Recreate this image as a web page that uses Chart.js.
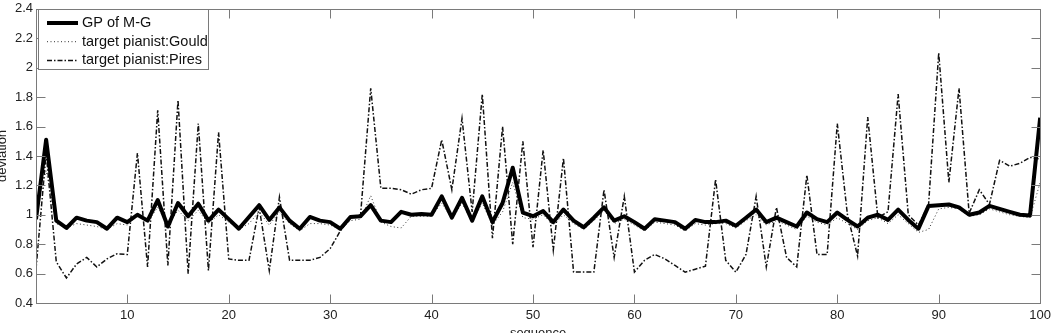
<!DOCTYPE html>
<html>
<head>
<meta charset="utf-8">
<script src="https://cdn.jsdelivr.net/npm/chart.js@4.4.1/dist/chart.umd.min.js"></script>
<style>
  html, body { margin: 0; padding: 0; background: #fff; overflow: hidden; width: 1056px; height: 333px; }
  #wrap { position: absolute; left: -6px; top: 0; width: 1062px; height: 345px; }
</style>
</head>
<body>
<div id="wrap"><canvas id="chart"></canvas></div>
<script>
// sequence index 1..100
const sequence = Array.from({ length: 100 }, (_, i) => i + 1);
const xTicks = [10, 20, 30, 40, 50, 60, 70, 80, 90, 100];
const yTicks = [0.4, 0.6, 0.8, 1.0, 1.2, 1.4, 1.6, 1.8, 2.0, 2.2, 2.4];

const gpMG = [
  0.97, 1.51, 0.96, 0.91, 0.98, 0.96, 0.95, 0.905, 0.98, 0.95,
  1.0, 0.96, 1.10, 0.92, 1.08, 0.99, 1.075, 0.96, 1.035, 0.97,
  0.905, 0.985, 1.065, 0.965, 1.05, 0.96, 0.905, 0.985, 0.96, 0.95,
  0.905, 0.985, 0.99, 1.065, 0.96, 0.95, 1.02, 1.0, 1.005, 1.0,
  1.125, 0.98, 1.115, 0.96, 1.125, 0.95, 1.08, 1.32, 1.015, 0.99,
  1.025, 0.95, 1.035, 0.96, 0.915, 0.98, 1.05, 0.96, 0.99, 0.95,
  0.905, 0.97, 0.96, 0.95, 0.905, 0.965, 0.95, 0.95, 0.96, 0.925,
  0.98, 1.035, 0.95, 0.98, 0.95, 0.92, 1.015, 0.97, 0.95, 1.015,
  0.965, 0.92, 0.98, 1.0, 0.965, 1.035, 0.965, 0.905, 1.06, 1.065,
  1.07, 1.05, 1.0, 1.015, 1.06, 1.04, 1.02, 1.0, 0.995, 1.66
];

const gould = [
  1.04, 1.30, 0.94, 0.91, 0.94, 0.93, 0.92, 0.90, 0.94, 0.93,
  1.0, 0.95, 1.05, 0.93, 1.03, 0.96, 1.03, 0.94, 1.0, 0.95,
  0.90, 0.94, 1.02, 0.93, 1.02, 0.94, 0.89, 0.94, 0.94, 0.93,
  0.90, 0.96, 0.97, 1.13, 0.95, 0.92, 0.91, 0.99, 0.99, 0.99,
  1.08, 0.97, 1.08, 0.95, 1.08, 0.93, 1.02, 1.22, 0.98, 0.97,
  1.0, 0.93, 1.0, 0.94, 0.90, 0.96, 1.03, 0.94, 0.97, 0.93,
  0.89, 0.95, 0.94, 0.93, 0.89, 0.94, 0.93, 0.94, 0.94, 0.91,
  0.96, 1.0, 0.93, 0.96, 0.93, 0.90, 0.99, 0.95, 0.93, 0.98,
  0.94, 0.90, 0.96, 0.98, 0.94, 1.0, 0.94, 0.88, 0.90, 1.04,
  1.05, 1.04, 0.99, 1.0, 1.04, 1.02, 1.0, 0.99, 0.98, 1.22
];

const pires = [
  0.63, 1.42, 0.68, 0.57, 0.665, 0.71, 0.645, 0.70, 0.735, 0.73,
  1.42, 0.645, 1.71, 0.655, 1.78, 0.60, 1.62, 0.62, 1.56, 0.70,
  0.69, 0.69, 1.05, 0.62, 1.12, 0.69, 0.69, 0.69, 0.71, 0.77,
  0.89, 0.98, 1.0, 1.86, 1.18, 1.18, 1.17, 1.14, 1.17, 1.18,
  1.51, 1.17, 1.655, 1.02, 1.82, 0.84, 1.6, 0.80, 1.5, 0.78,
  1.44, 0.76, 1.385, 0.61, 0.61, 0.61, 1.17, 0.71, 1.125, 0.61,
  0.69, 0.73, 0.70, 0.655, 0.61, 0.63, 0.65, 1.24, 0.69, 0.61,
  0.73, 1.125, 0.645, 1.05, 0.71, 0.645, 1.27, 0.73, 0.73, 1.62,
  1.0, 0.72, 1.665, 0.98, 1.02, 1.82, 1.0, 0.93, 1.07, 2.10,
  1.22, 1.86, 1.01, 1.17, 1.07, 1.37, 1.33, 1.35, 1.39, 1.38
];

const FONT = '"Liberation Sans", Arial, Helvetica, sans-serif';

// MATLAB-style box with inward ticks on all four sides
const frameTicks = {
  id: 'frameTicks',
  afterDatasetsDraw(chart) {
    const { ctx, chartArea: a, scales: { x, y } } = chart;
    const L = Math.round(a.left) + 0.5, R = Math.round(a.right) + 0.5;
    const T = Math.round(a.top) + 0.5, B = Math.round(a.bottom) + 0.5;
    ctx.save();
    ctx.strokeStyle = '#7a7a7a';
    ctx.lineWidth = 1;
    ctx.strokeRect(L, T, R - L, B - T);
    ctx.beginPath();
    xTicks.forEach(v => {
      const px = Math.round(x.getPixelForValue(v)) + 0.5;
      ctx.moveTo(px, B); ctx.lineTo(px, B - 9);
      ctx.moveTo(px, T); ctx.lineTo(px, T + 9);
    });
    yTicks.forEach(v => {
      const py = Math.round(y.getPixelForValue(v)) + 0.5;
      ctx.moveTo(L, py); ctx.lineTo(L + 9, py);
      ctx.moveTo(R, py); ctx.lineTo(R - 9, py);
    });
    ctx.stroke();
    ctx.restore();
  }
};

// boxed legend in the upper left, text clipped at the box edge
const boxLegend = {
  id: 'boxLegend',
  afterDraw(chart) {
    const ctx = chart.ctx;
    const bx = 44.5, by = 9.5, bw = 170, bh = 60;
    ctx.save();
    ctx.fillStyle = '#fff';
    ctx.fillRect(bx, by, bw, bh);
    ctx.strokeStyle = '#7a7a7a';
    ctx.lineWidth = 1;
    ctx.strokeRect(bx, by, bw, bh);
    ctx.beginPath();
    ctx.rect(bx, by, bw - 1, bh);
    ctx.clip();
    chart.data.datasets.forEach((ds, i) => {
      const ly = 23 + i * 18.7;
      ctx.strokeStyle = ds.borderColor;
      ctx.lineWidth = ds.borderWidth;
      ctx.setLineDash(ds.borderDash || []);
      ctx.beginPath();
      ctx.moveTo(53, ly);
      ctx.lineTo(84, ly);
      ctx.stroke();
      ctx.setLineDash([]);
      ctx.fillStyle = '#111';
      ctx.font = '14.5px ' + FONT;
      ctx.textBaseline = 'middle';
      ctx.fillText(ds.label, 88, ly);
    });
    ctx.restore();
  }
};

new Chart(document.getElementById('chart'), {
  type: 'line',
  data: {
    labels: sequence,
    datasets: [
      { label: 'GP of M-G', data: gpMG, borderColor: '#000', borderWidth: 4,
        borderJoinStyle: 'round', pointRadius: 0, tension: 0 },
      { label: 'target pianist:Gould', data: gould, borderColor: '#333', borderWidth: 1,
        borderDash: [1, 2.5], pointRadius: 0, tension: 0 },
      { label: 'target pianist:Pires', data: pires, borderColor: '#111', borderWidth: 1.5,
        borderDash: [5, 2, 1.5, 2], pointRadius: 0, tension: 0 }
    ]
  },
  options: {
    responsive: true,
    maintainAspectRatio: false,
    animation: false,
    devicePixelRatio: 1,
    layout: { padding: { top: 6, right: 13, left: 0, bottom: 0 } },
    plugins: { legend: { display: false }, tooltip: { enabled: false } },
    scales: {
      x: {
        type: 'linear', min: 1, max: 100,
        afterBuildTicks: s => { s.ticks = xTicks.map(v => ({ value: v })); },
        afterFit: s => { s.height = 42; },
        grid: { display: false, drawTicks: false },
        border: { display: false },
        ticks: { color: '#222', font: { size: 13, family: FONT }, padding: 5, maxRotation: 0, autoSkip: false },
        title: { display: true, text: 'sequence', color: '#222', font: { size: 13, family: FONT },
                 padding: { top: 0, bottom: 4 } }
      },
      y: {
        min: 0.4, max: 2.4,
        afterBuildTicks: s => { s.ticks = yTicks.map(v => ({ value: v })); },
        afterFit: s => { s.width = 42; },
        grid: { display: false, drawTicks: false },
        border: { display: false },
        ticks: { color: '#222', font: { size: 13, family: FONT, lineHeight: 0.9 }, padding: 3,
                 callback: v => String(+v.toFixed(1)) },
        title: { display: true, text: 'deviation', color: '#222', font: { size: 13, family: FONT },
                 padding: { top: 1, bottom: 0 } }
      }
    }
  },
  plugins: [frameTicks, boxLegend]
});
</script>
</body>
</html>
